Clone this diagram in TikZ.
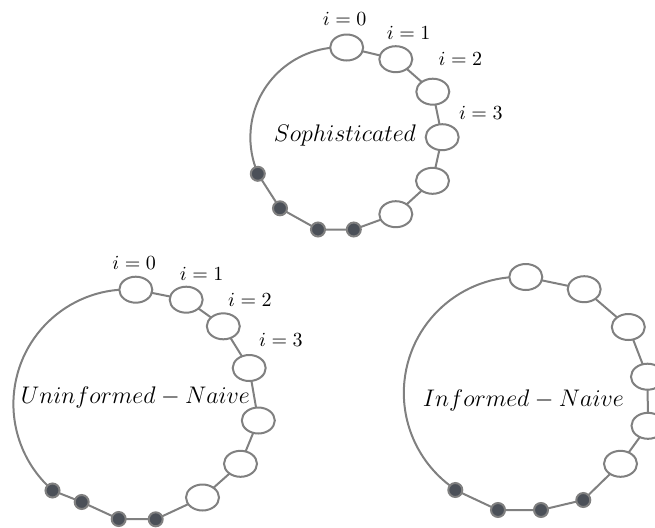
\documentclass[tikz,border=0pt]{standalone}
\usetikzlibrary{shapes.geometric,backgrounds}
\definecolor{linegray}{RGB}{128,128,128}
\definecolor{darkslot}{RGB}{75,80,88}
\tikzset{
  link/.style={draw=linegray, line width=1pt},
  slot/.style={ellipse, draw=linegray, line width=1pt, fill=white,
               minimum width=16.5pt, minimum height=13pt, inner sep=0pt},
  taken/.style={circle, draw=linegray, line width=1pt, fill=darkslot,
                minimum size=7pt, inner sep=0pt},
  idx/.style={inner sep=0pt, font=\normalsize},
  title/.style={inner sep=0pt, font=\large},
}
\begin{document}
\begin{tikzpicture}[x=0.5pt, y=-0.5pt]
\useasboundingbox (0,0) rectangle (655,527);

% ---------- Sophisticated ----------
\node[slot] (s0) at (346.7,47.5) {};
\node[slot] (s1) at (395.8,59.2) {};
\node[slot] (s2) at (432.8,91.7) {};
\node[slot] (s3) at (442.2,137.2) {};
\node[slot] (s4) at (432.5,180.8) {};
\node[slot] (s5) at (395.8,214.2) {};
\node[taken] (sd4) at (353.8,229.5) {};
\node[taken] (sd3) at (318,229.5) {};
\node[taken] (sd2) at (280,208.3) {};
\node[taken] (sd1) at (257.8,173.8) {};
\node[idx] (sl0) at (344.7,19) {$i=0$};
\node[idx] (sl1) at (408.7,32.5) {$i=1$};
\node[idx] (sl2) at (460.5,59.2) {$i=2$};
\node[idx] (sl3) at (480.8,113.3) {$i=3$};
\node[title] (st) at (345,135) {$Sophisticated$};
\begin{pgfonlayer}{background}
  \draw[link] (s0.center) arc[start angle=-86.1, end angle=-203.7, radius=90.2];
  \draw[link] (s0.center) -- (s1.center) -- (s2.center) -- (s3.center)
    -- (s4.center) -- (s5.center) -- (sd4.center) -- (sd3.center)
    -- (sd2.center) -- (sd1.center);
\end{pgfonlayer}

% ---------- Uninformed - Naive ----------
\node[slot] (u0) at (135.8,289.7) {};
\node[slot] (u1) at (186.2,299.7) {};
\node[slot] (u2) at (223.3,326.3) {};
\node[slot] (u3) at (249.2,368) {};
\node[slot] (u4) at (258.3,420.5) {};
\node[slot] (u5) at (240.5,463.8) {};
\node[slot] (u6) at (202.5,497.5) {};
\node[taken] (ud4) at (155.7,519.3) {};
\node[taken] (ud3) at (118.7,519) {};
\node[taken] (ud2) at (81.7,502) {};
\node[taken] (ud1) at (52.5,490.5) {};
\node[idx] (ul0) at (134.2,262.8) {$i=0$};
\node[idx] (ul1) at (201.7,274.2) {$i=1$};
\node[idx] (ul2) at (250,299.5) {$i=2$};
\node[idx] (ul3) at (281,340) {$i=3$};
\node[title] (ut) at (135.3,397.5) {$Uninformed-Naive$};
\begin{pgfonlayer}{background}
  \draw[link] (u0.center) arc[start angle=-86.1, end angle=-228.9, radius=114.6];
  \draw[link] (u0.center) -- (u1.center) -- (u2.center) -- (u3.center)
    -- (u4.center) -- (u5.center) -- (u6.center) -- (ud4.center)
    -- (ud3.center) -- (ud2.center) -- (ud1.center);
\end{pgfonlayer}

% ---------- Informed - Naive ----------
\node[slot] (n0) at (525.8,277) {};
\node[slot] (n1) at (584.2,289.2) {};
\node[slot] (n2) at (628.3,327) {};
\node[slot] (n3) at (647.5,376.7) {};
\node[slot] (n4) at (648,425.8) {};
\node[slot] (n5) at (620.5,463.8) {};
\node[taken] (nd4) at (583.3,500) {};
\node[taken] (nd3) at (541,510) {};
\node[taken] (nd2) at (498,510) {};
\node[taken] (nd1) at (455.3,490) {};
\node[title] (nt) at (523.3,400.8) {$Informed-Naive$};
\begin{pgfonlayer}{background}
  \draw[link] (n0.center) arc[start angle=-87.1, end angle=-236.2, radius=116.1];
  \draw[link] (n0.center) -- (n1.center) -- (n2.center) -- (n3.center)
    -- (n4.center) -- (n5.center) -- (nd4.center) -- (nd3.center)
    -- (nd2.center) -- (nd1.center);
\end{pgfonlayer}
\end{tikzpicture}
\end{document}
